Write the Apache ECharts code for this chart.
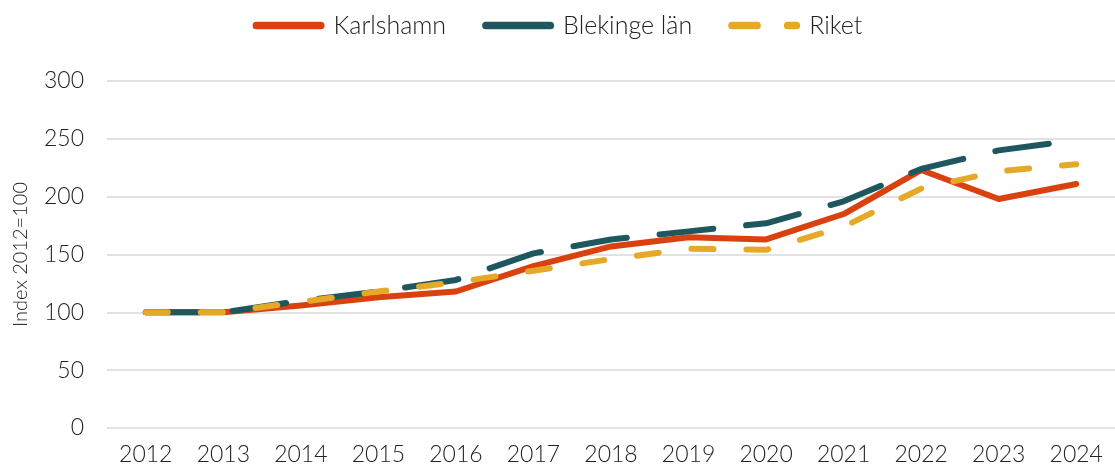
<!DOCTYPE html>
<html>
<head>
<meta charset="utf-8">
<script src="https://cdn.jsdelivr.net/npm/echarts@6/dist/echarts.min.js"></script>
<style>
  html, body { margin: 0; padding: 0; background: #fff; }
  #chart { width: 1115px; height: 468px; }
</style>
</head>
<body>
<div id="chart"></div>
<script>
var years = ['2012', '2013', '2014', '2015', '2016', '2017', '2018', '2019', '2020', '2021', '2022', '2023', '2024']
var karlshamn = [100, 100, 106, 113, 118, 140, 157, 165, 163, 185, 223, 198, 211]
var blekinge = [100, 100, 110, 118, 128, 151, 163, 170, 177, 196, 224, 240, 249]
var riket = [100, 100, 109, 118, 126, 136, 146, 155, 154, 174, 207, 222, 228]
var yTicks = [0, 50, 100, 150, 200, 250, 300]

var font = 'Lato, "Open Sans", sans-serif'
var chart = echarts.init(document.getElementById('chart'))

// rounded bar icon, and two-dash icon for the dashed series
var solidIcon = 'path://M4,0 H71 A4,4 0 0 1 71,8 H4 A4,4 0 0 1 4,0 Z'
var dashIcon = 'path://M4,0 H30 A4,4 0 0 1 30,8 H4 A4,4 0 0 1 4,0 Z M62,0 H71 A4,4 0 0 1 71,8 H62 A4,4 0 0 1 62,0 Z'

function lineSeries(name, data, color, dash, z) {
  return {
    name: name,
    type: 'line',
    data: data,
    symbol: 'none',
    z: z,
    lineStyle: {
      color: color,
      width: 6,
      type: dash,
      cap: 'round',
      join: 'round'
    },
    itemStyle: { color: color }
  }
}

chart.setOption({
  animation: false,
  textStyle: { fontFamily: font },
  legend: {
    top: 8,
    left: 'center',
    itemWidth: 72,
    itemHeight: 8,
    itemGap: 36,
    textStyle: { fontSize: 25, color: '#222', fontWeight: 300, fontFamily: font, padding: [0, 0, 0, 4] },
    data: [
      { name: 'Karlshamn', icon: solidIcon },
      { name: 'Blekinge län', icon: solidIcon },
      { name: 'Riket', icon: dashIcon }
    ]
  },
  grid: {
    left: 107,
    right: -11,
    top: 81,
    bottom: 40,
    containLabel: false
  },
  xAxis: {
    type: 'category',
    data: years,
    boundaryGap: true,
    axisLine: { show: false },
    axisTick: { show: false },
    axisLabel: { fontSize: 23, color: '#222', fontWeight: 300, margin: 15, fontFamily: font }
  },
  yAxis: {
    type: 'value',
    min: yTicks[0],
    max: yTicks[yTicks.length - 1],
    interval: 50,
    name: 'Index 2012=100',
    nameLocation: 'middle',
    nameGap: 76,
    nameRotate: 90,
    nameTextStyle: { fontSize: 20, color: '#222', fontWeight: 300, fontFamily: font },
    axisLine: { show: false },
    axisTick: { show: false },
    axisLabel: { fontSize: 23, color: '#222', fontWeight: 300, margin: 23, fontFamily: font },
    splitLine: { lineStyle: { color: '#d9d9d9', width: 1.5 } }
  },
  series: [
    lineSeries('Karlshamn', karlshamn, '#d9410e', 'solid', 3),
    lineSeries('Blekinge län', blekinge, '#1f575f', [54, 33], 4),
    lineSeries('Riket', riket, '#e5a827', [22, 33], 5)
  ]
})
</script>
</body>
</html>
